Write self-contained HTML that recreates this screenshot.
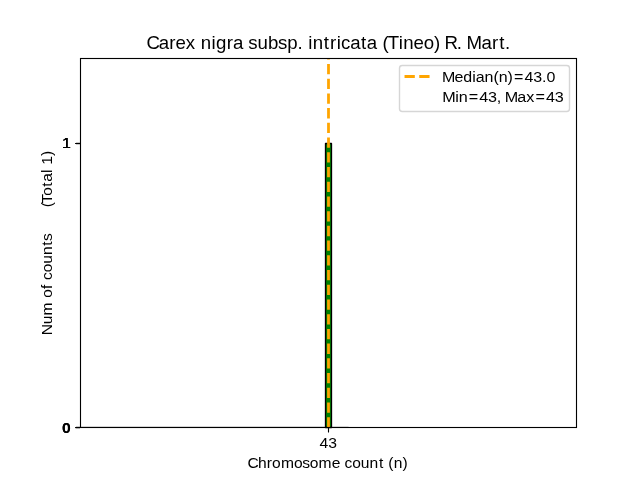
<!DOCTYPE html>
<html><head><meta charset="utf-8">
<style>
html,body{margin:0;padding:0;background:#fff;width:640px;height:480px;overflow:hidden}
svg{display:block;will-change:transform}
text{font-family:"Liberation Sans",sans-serif;fill:#000}
</style></head><body>
<svg width="640" height="480" viewBox="0 0 640 480">
<rect x="0" y="0" width="640" height="480" fill="#fff"/>
<rect x="325.5" y="143.5" width="6" height="284" fill="#008000" stroke="#000" stroke-width="1.3" stroke-linejoin="round"/>
<line x1="80.5" y1="426.5" x2="348.6" y2="426.5" stroke="#000" stroke-opacity="0.12" stroke-width="1"/>
<line x1="328.5" y1="427.5" x2="328.5" y2="58.5" stroke="#ffa500" stroke-width="2.78" stroke-dasharray="10.28 4.44"/>
<rect x="80.5" y="58.5" width="496" height="369" fill="none" stroke="#000" stroke-width="1.11"/>
<g stroke="#000" stroke-width="1.11"><line x1="75.5" y1="427.5" x2="80.5" y2="427.5"/><line x1="75.5" y1="427.5" x2="80.5" y2="427.5"/><line x1="75.5" y1="427.5" x2="80.5" y2="427.5"/><line x1="75.5" y1="427.5" x2="80.5" y2="427.5"/></g>
<line x1="75" y1="428.6" x2="80" y2="428.6" stroke="#000" stroke-opacity="0.15" stroke-width="1"/>
<g stroke="#000" stroke-width="1.11"><line x1="75.5" y1="143.5" x2="80.5" y2="143.5"/><line x1="75.5" y1="143.5" x2="80.5" y2="143.5"/><line x1="75.5" y1="143.5" x2="80.5" y2="143.5"/><line x1="75.5" y1="143.5" x2="80.5" y2="143.5"/></g>
<line x1="328.5" y1="427.5" x2="328.5" y2="432.5" stroke="#000" stroke-width="1.11"/>
<path d="M402.28 65.5L566.72 65.5Q569.5 65.5 569.5 68.28L569.5 108.72Q569.5 111.5 566.72 111.5L402.28 111.5Q399.5 111.5 399.5 108.72L399.5 68.28Q399.5 65.5 402.28 65.5Z" fill="#fff" fill-opacity="0.8" stroke="#d6d6d6" stroke-width="1.39"/>
<line x1="404.54" y1="76.5" x2="432.32" y2="76.5" stroke="#ffa500" stroke-width="2.78" stroke-dasharray="10.28 4.44"/>
<text transform="translate(147.45,48.70) scale(1.0564,1)" x="-0.93 10.77 20.61 26.45 36.35 45.47 50.47 60.57 64.78 74.98 81.05 90.79 95.45 104.07 114.01 123.62 132.23 142.14 147.11 152.28 156.49 166.99 172.84 179.26 183.31 191.93 202.26 207.67 217.40 222.42 227.60 237.83 242.04 251.86 261.51 271.35 277.39 281.16 292.78 297.75 302.13 316.17 326.19 333.01 338.57" y="0" font-size="17.66" style="white-space:pre">Carex nigra subsp. intricata (Tineo) R. Mart.</text>
<text transform="translate(248.19,467.50) scale(1.0604,1)" x="-0.72 9.23 17.59 22.55 30.88 43.29 51.07 58.03 66.36 78.77 86.89 90.92 98.11 106.24 114.49 123.26 127.91 132.16 137.24 145.54" y="0" font-size="14.72" style="white-space:pre">Chromosome count (n)</text>
<text transform="translate(51.50,334.77) rotate(-90) scale(1.0567,1)" x="-0.41 9.87 18.36 30.90 34.94 43.38 47.82 51.86 59.08 67.24 75.52 84.31 88.65 95.72 99.87 104.01 108.15 112.29 116.43 120.69 124.15 131.47 140.14 144.78 153.15 156.65 160.87 169.25" y="0" font-size="14.72" style="white-space:pre">Num of counts      (Total 1)</text>
<text transform="translate(442.70,81.60) scale(1.0868,1)" x="-0.61 10.86 18.85 27.18 30.47 38.46 46.66 51.57 59.72 65.69 75.27 83.32 91.41 95.40" y="0" font-size="14.72" style="white-space:pre">Median(n)=43.0</text>
<text transform="translate(443.05,101.60) scale(1.0990,1)" x="-0.67 11.05 14.33 23.40 32.87 40.83 48.85 52.83 56.20 67.62 75.71 84.13 93.61 101.57" y="0" font-size="14.72" style="white-space:pre">Min=43, Max=43</text>
<text transform="translate(319.57,447.50) scale(1.0688,1)" x="0.00 8.19" y="0" font-size="14.72" style="white-space:pre">43</text>
<text transform="translate(62.06,432.50) scale(1.0688,1)" x="0.00" y="0" font-size="14.72" font-weight="bold" style="white-space:pre">0</text>
<text transform="translate(62.06,432.50) scale(1.0688,1)" x="0.00" y="0" font-size="14.72" font-weight="bold" style="white-space:pre">0</text>
<text transform="translate(61.96,147.50) scale(1.0841,1)" x="0.00" y="0" font-size="14.72" style="white-space:pre">1</text>
<text transform="translate(61.96,147.50) scale(1.0841,1)" x="0.00" y="0" font-size="14.72" style="white-space:pre">1</text>
<text transform="translate(61.96,147.50) scale(1.0841,1)" x="0.00" y="0" font-size="14.72" style="white-space:pre">1</text>
<text transform="translate(61.96,147.50) scale(1.0841,1)" x="0.00" y="0" font-size="14.72" style="white-space:pre">1</text>
</svg>
</body></html>
